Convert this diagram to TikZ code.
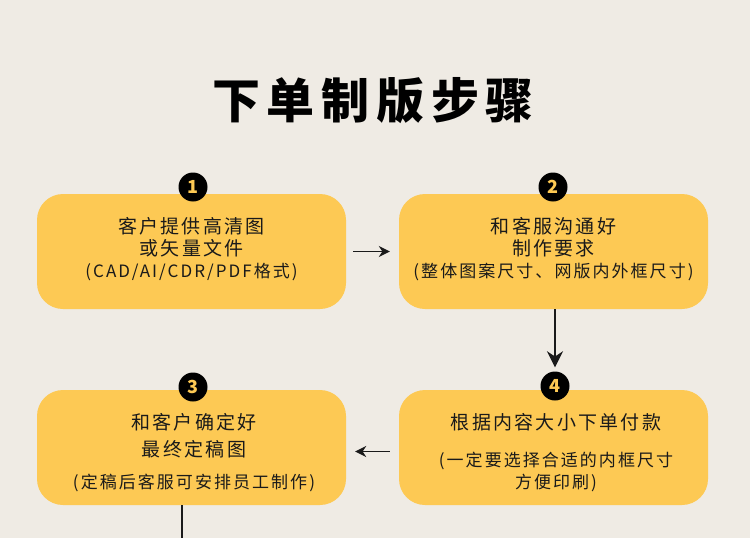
\documentclass[tikz,border=0pt]{standalone}
\usepackage{fontspec}
\usetikzlibrary{arrows.meta}
\newfontfamily\cjk[LetterSpace=12]{Noto Sans CJK SC}
\newfontfamily\cjktitle[LetterSpace=14]{Noto Sans CJK SC}
\definecolor{paper}{HTML}{EFEBE4}
\definecolor{boxyellow}{HTML}{FDC954}
\definecolor{ink}{HTML}{1A1A1A}
\newcommand{\mainline}{\fontsize{19}{22}\selectfont}
\newcommand{\noteline}{\fontsize{17}{22}\selectfont}
\begin{document}
\begin{tikzpicture}[x=1pt,y=-1pt,
  stepbox/.style={fill=boxyellow, rounded corners=26pt, minimum width=309pt, minimum height=115pt},
  steptext/.style={align=center, text=ink, inner sep=0pt, font=\cjk\mainline},
  stepnum/.style={circle, fill=black, text=boxyellow, minimum size=29pt, inner sep=0pt, font=\cjk\bfseries\fontsize{18}{18}\selectfont},
  thinarrow/.style={-{Stealth[length=11pt,width=11pt]}, line width=1.4pt, ink},
  thickarrow/.style={-{Stealth[length=16pt,width=16pt]}, line width=2.6pt, ink}]
\fill[paper] (0,0) rectangle (750,538);
\useasboundingbox (0,0) rectangle (750,538);
\node[text=black, font=\cjktitle\bfseries\fontsize{48}{50}\selectfont] (title) at (373,101) {下单制版步骤};
\node[stepbox] (s1) at (191.5,251.5) {};
\node[stepbox] (s2) at (553.5,251.5) {};
\node[stepbox] (s3) at (191.5,447.5) {};
\node[stepbox] (s4) at (553.5,447.5) {};
\node[steptext] (t1) at (191.5,249) {客户提供高清图\\或矢量文件\\{\noteline (CAD/AI/CDR/PDF格式)}};
\node[steptext] (t2) at (553.5,249) {和客服沟通好\\制作要求\\{\noteline (整体图案尺寸、网版内外框尺寸)}};
\node[steptext] (t3) at (194,453) {和客户确定好\\[5pt]最终定稿图\\[10pt]{\noteline (定稿后客服可安排员工制作)}};
\node[steptext] (t4) at (556,453) {根据内容大小下单付款\\[15pt]{\noteline (一定要选择合适的内框尺寸}\\{\noteline 方便印刷)}};
\node[stepnum] (n1) at (193,187) {1};
\node[stepnum] (n2) at (553,187) {2};
\node[stepnum] (n3) at (193,387) {3};
\node[stepnum] (n4) at (555,386) {4};
\coordinate (tail) at (182,538);
\draw[thinarrow] ([xshift=7pt]s1.east) -- ([xshift=-9pt]s2.west);
\draw[thinarrow] ([xshift=-9pt,yshift=-4pt]s4.west) -- ([xshift=9pt,yshift=-4pt]s3.east);
\draw[thickarrow] (n4 |- s2.south) -- ([yshift=4pt]n4.north);
\draw[line width=1.8pt, ink] (tail |- s3.south) -- (tail);
\end{tikzpicture}
\end{document}
